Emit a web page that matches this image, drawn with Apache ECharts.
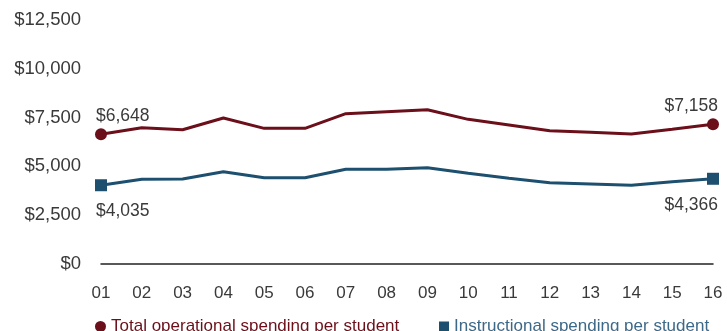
<!DOCTYPE html>
<html><head><meta charset="utf-8">
<script src="https://cdn.jsdelivr.net/npm/echarts@6/dist/echarts.min.js"></script>
<style>html,body{margin:0;padding:0;background:#fff}#c{width:727px;height:331px}</style>
</head><body><div id="c"></div>
<script>
const years = ['01','02','03','04','05','06','07','08','09','10','11','12','13','14','15','16'];
const totalSpending = [6648, 6980, 6880, 7480, 6950, 6950, 7700, 7800, 7900, 7410, 7120, 6830, 6750, 6660, 6900, 7158];
const instructionalSpending = [4035, 4340, 4350, 4730, 4420, 4420, 4850, 4860, 4930, 4650, 4390, 4165, 4100, 4030, 4210, 4366];
const yTicks = [0, 2500, 5000, 7500, 10000, 12500];
const seriesNames = ['Total operational spending per student', 'Instructional spending per student'];

const RED = '#6b0f1a', BLUE = '#1d4f6f';
const FONT = '"Liberation Sans", Arial, sans-serif';
const TXT = '#3a3a3a';
const fmt = v => '$' + v.toLocaleString('en-US');

function build(arr, sym, topAbove) {
  const n = arr.length;
  return arr.map((v, i) => {
    if (i !== 0 && i !== n - 1) return v;
    const first = i === 0;
    return {
      value: v, symbol: sym, symbolSize: 12,
      label: {
        show: true, formatter: () => fmt(v),
        position: topAbove ? 'top' : 'bottom',
        align: first ? 'left' : 'right',
        offset: [first ? -5 : 5, topAbove ? 2 : 6],
        color: TXT, fontSize: 17.5, fontFamily: FONT
      }
    };
  });
}

const chart = echarts.init(document.getElementById('c'), null, {renderer: 'canvas'});
chart.setOption({
  animation: false,
  grid: {left: 101, right: 14, top: 20, bottom: 67, containLabel: false},
  legend: [
    {data: [{name: seriesNames[0], icon: 'circle', textStyle: {color: RED}}], left: 90, top: 313,
     itemWidth: 11, itemHeight: 11, itemGap: 5, textStyle: {fontSize: 17, fontFamily: FONT}},
    {data: [{name: seriesNames[1], icon: 'rect', textStyle: {color: '#3d6989'}}], left: 434, top: 313,
     itemWidth: 10, itemHeight: 10, itemGap: 5, textStyle: {fontSize: 17, fontFamily: FONT}}
  ],
  xAxis: {
    type: 'category', data: years, boundaryGap: false,
    axisLine: {lineStyle: {color: '#222', width: 1.5}},
    axisTick: {show: false},
    axisLabel: {color: TXT, fontSize: 17, fontFamily: FONT, margin: 21}
  },
  yAxis: {
    type: 'value', min: yTicks[0], max: yTicks[yTicks.length - 1], interval: 2500,
    splitLine: {show: false}, axisLine: {show: false}, axisTick: {show: false},
    axisLabel: {color: TXT, fontSize: 18.5, fontFamily: FONT, margin: 20,
      formatter: v => fmt(v)}
  },
  series: [
    {name: seriesNames[0], type: 'line', data: build(totalSpending, 'circle', true),
     symbol: 'none', color: RED, lineStyle: {width: 3, color: RED}, itemStyle: {color: RED}},
    {name: seriesNames[1], type: 'line', data: build(instructionalSpending, 'rect', false),
     symbol: 'none', color: BLUE, lineStyle: {width: 3, color: BLUE}, itemStyle: {color: BLUE}}
  ]
});
</script></body></html>
